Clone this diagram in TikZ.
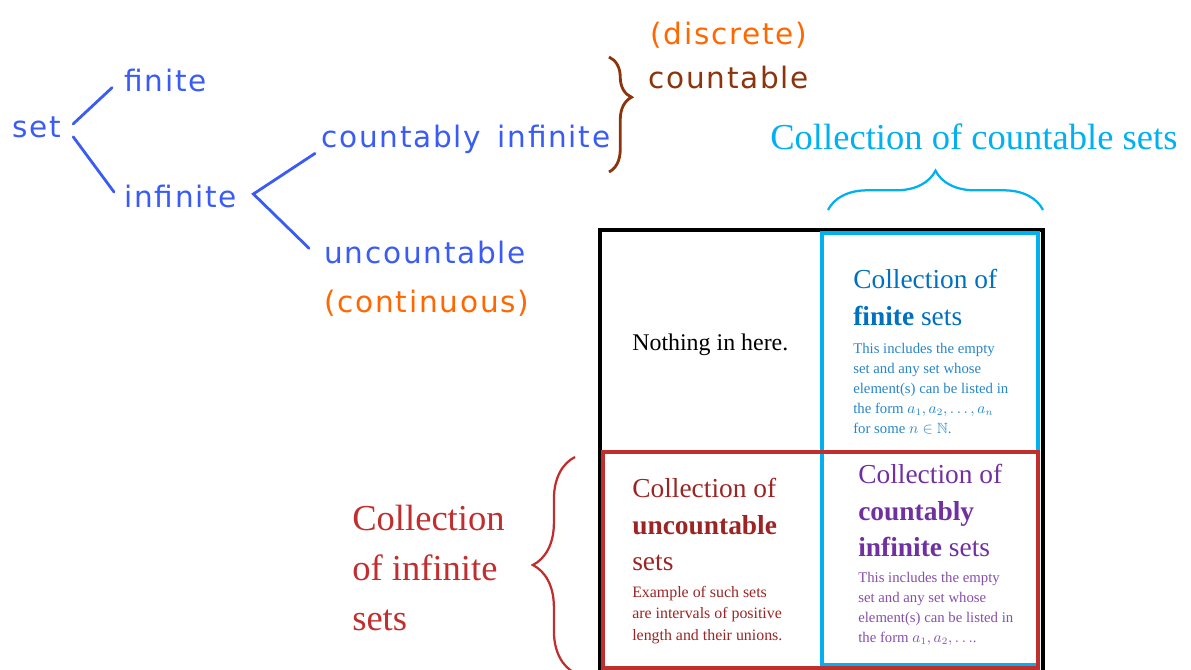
\documentclass[tikz,border=0pt]{standalone}
\usepackage{fontspec}
\usepackage{amssymb}
\setmainfont{Liberation Serif}
\newfontfamily\handfont[LetterSpace=6]{DejaVu Sans}
\usetikzlibrary{calc,decorations.pathreplacing}

\definecolor{handblue}{RGB}{58,92,245}
\definecolor{handorange}{RGB}{255,104,0}
\definecolor{handbrown}{RGB}{140,52,12}
\definecolor{countcyan}{RGB}{0,176,240}
\definecolor{finiteblue}{RGB}{0,112,192}
\definecolor{notered}{RGB}{192,46,46}
\definecolor{uncred}{RGB}{155,36,36}
\definecolor{infpurple}{RGB}{112,48,160}

\tikzset{
  hand/.style={inner sep=0pt, anchor=base west, font=\handfont\fontsize{21}{25}\selectfont},
  branch/.style={handblue, line width=2pt, line cap=round},
  cellhead/.style={inner sep=0pt, anchor=north west, align=left, font=\fontsize{19.5}{26}\selectfont},
  cellnote/.style={inner sep=0pt, anchor=north west, align=left, font=\fontsize{10.5}{14.2}\selectfont},
  bighead/.style={inner sep=0pt, align=left, font=\fontsize{26}{35.5}\selectfont},
  setbrace/.style={decorate, line width=1.6pt}
}

\begin{document}
\begin{tikzpicture}[x=0.025cm, y=-0.025cm]
  \useasboundingbox (0,0) rectangle (1191,670);
  \clip (0,0) rectangle (1191,670);

  % the hand-written tree
  \node[hand, handblue] (set) at (12,138) {set};
  \node[hand, handblue] (finite) at (124,92) {finite};
  \node[hand, handblue] (infinite) at (124,207) {infinite};
  \node[hand, handblue] (countinf) at (321,148) {countably\hspace{0.55em}infinite};
  \node[hand, handblue] (uncount) at (324,263) {uncountable};
  \node[hand, handorange] (continuous) at (324,312) {(continuous)};
  \node[hand, handorange] (discrete) at (650,45) {(discrete)};
  \node[hand, handbrown] (countable) at (648,89) {countable};

  \draw[branch] ($(set.east)+(12,-4)$) -- ($(finite.south west)+(-12,-5)$);
  \draw[branch] ($(set.east)+(12,9)$) -- ($(infinite.west)+(-10,-4)$);
  \coordinate (fork) at ($(infinite.east)+(16,-2)$);
  \draw[branch] ($(countinf.south west)+(-6,-1)$) -- (fork) -- ($(uncount.north west)+(-15,8)$);

  \draw[setbrace, handbrown, line width=2pt, decoration={brace, amplitude=16pt, aspect=0.35}]
    (609,57) -- (609,172);

  % the table of collections
  \draw[line width=2.8pt] (600,230) rectangle (1043,700);
  \draw[countcyan, line width=2.8pt] (822,233) rectangle (1038,665);
  \draw[notered, line width=2.8pt] (603,452) rectangle (1038,668);

  \node[inner sep=0pt, anchor=base west, font=\fontsize{17}{20}\selectfont] (nothing) at (632,350) {Nothing in here.};

  \node[cellhead, finiteblue] (finitehead) at (853,269) {Collection of\\\textbf{finite} sets};
  \node[cellnote, finiteblue!85!white] (finitenote) at (853,343)
    {This includes the empty\\set and any set whose\\element(s) can be listed in\\the form $a_1,a_2,\dots,a_n$\\for some $n\in\mathbb{N}$.};

  \node[cellhead, uncred] (unchead) at (632,478) {Collection of\\\textbf{uncountable}\\sets};
  \node[cellnote, uncred, font=\fontsize{11.3}{15.3}\selectfont] (uncnote) at (632,586)
    {Example of such sets\\are intervals of positive\\length and their unions.};

  \node[cellhead, infpurple] (infhead) at (858,464) {Collection of\\\textbf{countably}\\\textbf{infinite} sets};
  \node[cellnote, infpurple!85!white] (infnote) at (858,572)
    {This includes the empty\\set and any set whose\\element(s) can be listed in\\the form $a_1,a_2,\dots$.};

  % labels of the two collections
  \node[bighead, countcyan, anchor=base west] (countsets) at (770,150) {Collection of countable sets};
  \draw[setbrace, countcyan, decoration={brace, amplitude=28pt}] (828,210) -- (1043,210);

  \node[bighead, notered, anchor=north west] (infsets) at (352,505) {Collection\\of infinite\\sets};
  \draw[setbrace, notered, decoration={brace, amplitude=30pt}] (575,673) -- (575,457);
\end{tikzpicture}
\end{document}
